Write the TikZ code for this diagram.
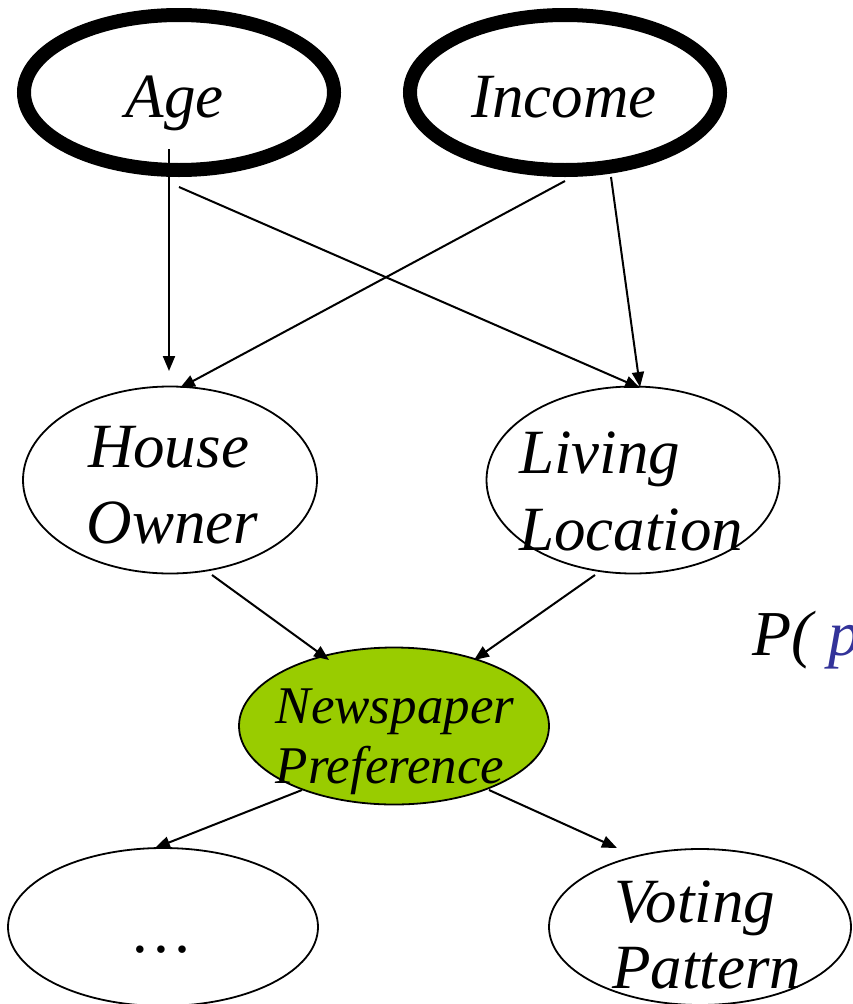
\documentclass[tikz,border=0pt]{standalone}
\usepackage{fontspec}
\setmainfont{Liberation Serif}
\usetikzlibrary{arrows.meta,calc,shapes.geometric}
\definecolor{nodegreen}{RGB}{153,204,0}
\definecolor{pblue}{RGB}{51,51,153}

\begin{document}
\begin{tikzpicture}[x=1pt,y=-1pt,
  rootvar/.style={ellipse,draw,line width=14pt,inner sep=0pt,
    minimum width=310pt,minimum height=155pt},
  var/.style={ellipse,draw,line width=1.8pt,inner sep=0pt},
  lbl/.style={font=\fontsize{63}{63}\selectfont\itshape,inner sep=0pt,anchor=base},
  smalllbl/.style={font=\fontsize{53}{53}\selectfont\itshape,inner sep=0pt,anchor=base},
  arr/.style={line width=2pt,-{Triangle[length=15pt,width=12pt]}}
]
\useasboundingbox (0,0) rectangle (852,1004);
\clip (0,0) rectangle (852,1004);

% root variables
\node[rootvar] (age) at (179,92.5) {};
\node[rootvar] (income) at (565,92.5) {};
\node[lbl] (agetxt) at (174.5,117) {Age};
\node[lbl] (inctxt) at (564,117) {Income};

% middle layer
\node[var,minimum width=294pt,minimum height=187pt] (ho) at (170,480) {};
\node[var,minimum width=293pt,minimum height=187pt] (ll) at (633,480) {};
\node[lbl] (hotxta) at (168.5,467) {House};
\node[lbl] (hotxtb) at (172.5,543) {Owner};
\node[lbl,anchor=base west] (lltxta) at (519,473) {Living};
\node[lbl,anchor=base west] (lltxtb) at (519,550) {Location};

% query variable
\node[var,fill=nodegreen,minimum width=310pt,minimum height=157pt] (np) at (394,726) {};
\node[smalllbl] (nptxta) at (395,723) {Newspaper};
\node[smalllbl] (nptxtb) at (390,783) {Preference};

% children
\node[var,minimum width=310pt,minimum height=158pt] (dots) at (163,927) {};
\node[var,minimum width=302pt,minimum height=156pt] (vp) at (700,927) {};
\node[lbl] (dotstxt) at (163,952) {…};
\node[lbl] (vptxta) at (694.5,922) {Voting};
\node[lbl] (vptxtb) at (706.5,988) {Pattern};

% formula, running past the right edge
\node[font=\fontsize{64}{64}\selectfont\itshape,inner sep=0pt,anchor=base west] (formula)
  at (752,655) {P( \textcolor{pblue}{p}};

% edges
\draw[arr] ($(age)+(-10,56.5)$) -- ($(ho)+(-1,-109)$);
\draw[arr] ($(age)+(0,94.5)$) -- ($(ll)+(7,-92)$);
\draw[arr] ($(income)+(0,88.5)$) -- ($(ho)+(10,-92)$);
\draw[arr] ($(income)+(46,84.5)$) -- ($(ll)+(7,-93)$);
\draw[arr] ($(ho)+(42,95)$) -- ($(np)+(-65,-66)$);
\draw[arr] ($(ll)+(-38,95)$) -- ($(np)+(80,-66)$);
\draw[arr] ($(np)+(-92,64)$) -- ($(dots)+(-8,-79)$);
\draw[arr] ($(np)+(95,64)$) -- ($(vp)+(-83,-79)$);
\end{tikzpicture}
\end{document}
